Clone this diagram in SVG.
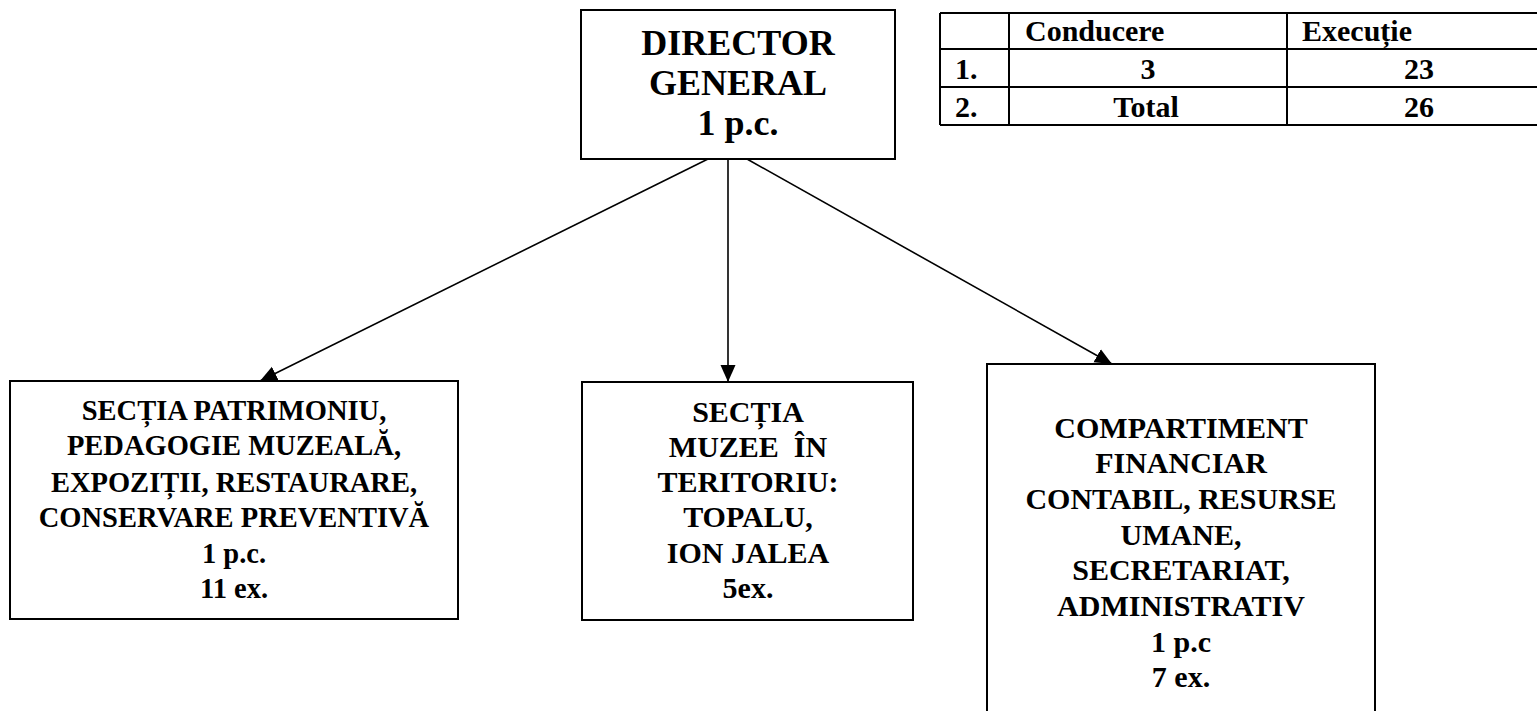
<svg xmlns="http://www.w3.org/2000/svg" width="1537" height="711" viewBox="0 0 1537 711">
<defs>
<style>
.box{fill:#fff;stroke:#000;stroke-width:2}
.t{font-family:"Liberation Serif","Times New Roman",serif;font-weight:bold;fill:#000;text-anchor:middle}
.d{font-size:36px}
.n{font-size:30px}
.l{font-size:28.5px}
.tb{font-family:"Liberation Serif","Times New Roman",serif;font-weight:bold;fill:#000;font-size:30px}
.grid{stroke:#000;stroke-width:2;fill:none}
.conn{stroke:#000;stroke-width:1.6;fill:none}
</style>
<marker id="arr" markerUnits="userSpaceOnUse" markerWidth="20" markerHeight="16" refX="17" refY="7.5" orient="auto">
<path d="M0,0 L17,7.5 L0,15 Z" fill="#000"/>
</marker>
</defs>
<rect width="1537" height="711" fill="#fff"/>

<g id="connectors">
<line class="conn" x1="708" y1="159" x2="260" y2="381" marker-end="url(#arr)"/>
<line class="conn" x1="728" y1="159" x2="728" y2="382" marker-end="url(#arr)"/>
<line class="conn" x1="747" y1="159" x2="1112" y2="364" marker-end="url(#arr)"/>
</g>

<g id="director">
<rect class="box" x="581" y="10" width="314" height="149"/>
<text class="t d" x="738" y="55">DIRECTOR</text>
<text class="t d" x="738" y="95">GENERAL</text>
<text class="t d" x="738" y="135">1 p.c.</text>
</g>

<g id="table">
<line class="grid" x1="940" y1="13" x2="1540" y2="13"/>
<line class="grid" x1="940" y1="49" x2="1540" y2="49"/>
<line class="grid" x1="940" y1="87" x2="1540" y2="87"/>
<line class="grid" x1="940" y1="125" x2="1540" y2="125"/>
<line class="grid" x1="940" y1="13" x2="940" y2="125"/>
<line class="grid" x1="1009" y1="13" x2="1009" y2="125"/>
<line class="grid" x1="1287" y1="13" x2="1287" y2="125"/>
<text class="tb" x="1025" y="41">Conducere</text>
<text class="tb" x="1302" y="41">Execuție</text>
<text class="tb" x="955" y="79">1.</text>
<text class="tb" x="1148" y="79" text-anchor="middle">3</text>
<text class="tb" x="1419" y="79" text-anchor="middle">23</text>
<text class="tb" x="955" y="117">2.</text>
<text class="tb" x="1146" y="117" text-anchor="middle">Total</text>
<text class="tb" x="1419" y="117" text-anchor="middle">26</text>
</g>

<g id="sectia-patrimoniu">
<rect class="box" x="10" y="381" width="448" height="238"/>
<text class="t l" x="234" y="420">SECȚIA PATRIMONIU,</text>
<text class="t l" x="234" y="455">PEDAGOGIE MUZEALĂ,</text>
<text class="t l" x="234" y="492">EXPOZIȚII, RESTAURARE,</text>
<text class="t l" x="234" y="527">CONSERVARE PREVENTIVĂ</text>
<text class="t l" x="234" y="563">1 p.c.</text>
<text class="t l" x="234" y="598">11 ex.</text>
</g>

<g id="sectia-muzee">
<rect class="box" x="582" y="382" width="331" height="238"/>
<text class="t n" x="748" y="422">SECȚIA</text>
<text class="t n" x="748" y="457">MUZEE&#160; ÎN</text>
<text class="t n" x="748" y="492">TERITORIU:</text>
<text class="t n" x="748" y="527">TOPALU,</text>
<text class="t n" x="748" y="563">ION JALEA</text>
<text class="t n" x="748" y="598">5ex.</text>
</g>

<g id="compartiment">
<rect class="box" x="987" y="364" width="388" height="360"/>
<text class="t n" x="1181" y="438">COMPARTIMENT</text>
<text class="t n" x="1181" y="473">FINANCIAR</text>
<text class="t n" x="1181" y="509">CONTABIL, RESURSE</text>
<text class="t n" x="1181" y="545">UMANE,</text>
<text class="t n" x="1181" y="580">SECRETARIAT,</text>
<text class="t n" x="1181" y="616">ADMINISTRATIV</text>
<text class="t n" x="1181" y="652">1 p.c</text>
<text class="t n" x="1181" y="687">7 ex.</text>
</g>
</svg>
